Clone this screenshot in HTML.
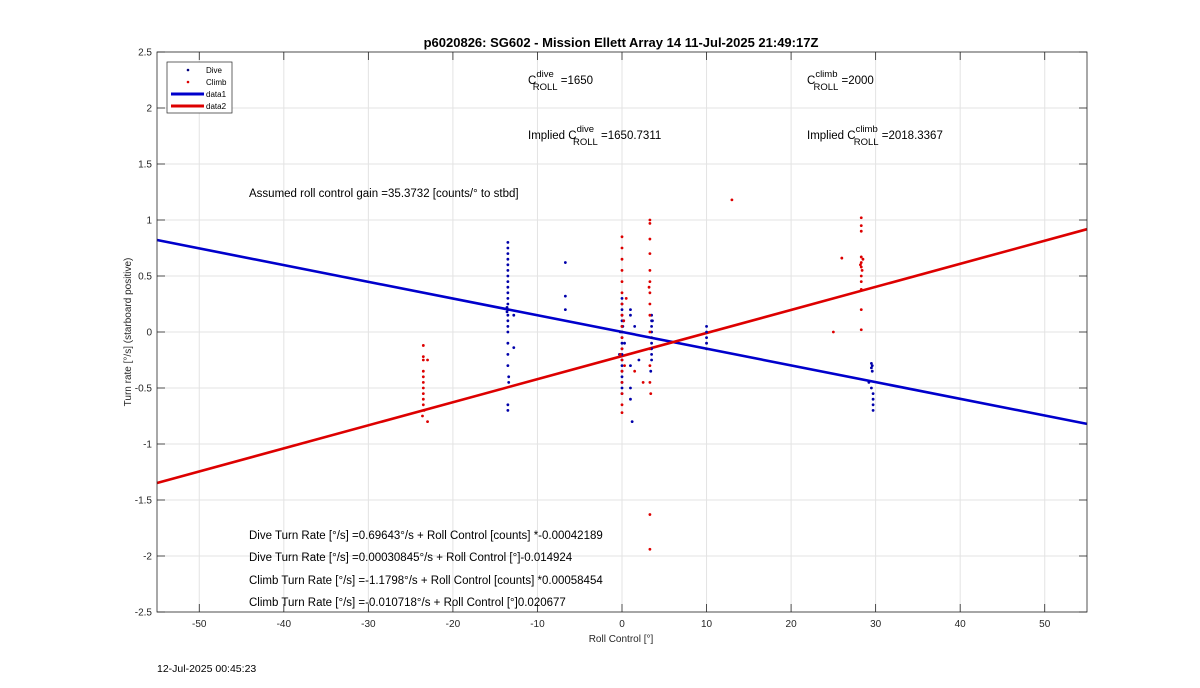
<!DOCTYPE html>
<html><head><meta charset="utf-8"><style>
body{margin:0;background:#fff;}
svg{display:block;font-family:"Liberation Sans",Arial,sans-serif;}
</style></head><body>
<svg id="chart" width="1200" height="688" viewBox="0 0 1200 688">
<rect x="0" y="0" width="1200" height="688" fill="#fff"/>
<rect x="157" y="52" width="930" height="560" fill="#fff" stroke="none"/>
<g id="grid"></g>
<g id="axes"></g>
<g id="marks"></g>
<rect x="157" y="52" width="930" height="560" fill="none" stroke="#262626" stroke-width="0.8"/>
<text x="621" y="47" text-anchor="middle" font-size="13" font-weight="bold" fill="#000">p6020826: SG602 - Mission Ellett Array 14 11-Jul-2025 21:49:17Z</text>
<g font-size="11.5" fill="#000">
<text x="528" y="84">C<tspan dy="-7" font-size="9.5">dive</tspan><tspan dx="-21" dy="13" font-size="9.5">ROLL</tspan><tspan dy="-6"> =1650</tspan></text>
<text x="807" y="84">C<tspan dy="-7" font-size="9.5">climb</tspan><tspan dx="-24" dy="13" font-size="9.5">ROLL</tspan><tspan dy="-6"> =2000</tspan></text>
<text x="528" y="139">Implied C<tspan dy="-7" font-size="9.5">dive</tspan><tspan dx="-21" dy="13" font-size="9.5">ROLL</tspan><tspan dy="-6"> =1650.7311</tspan></text>
<text x="807" y="139">Implied C<tspan dy="-7" font-size="9.5">climb</tspan><tspan dx="-24" dy="13" font-size="9.5">ROLL</tspan><tspan dy="-6"> =2018.3367</tspan></text>
<text x="249" y="197">Assumed roll control gain =35.3732 [counts/° to stbd]</text>
<text x="249" y="539">Dive Turn Rate [°/s] =0.69643°/s + Roll Control [counts] *-0.00042189</text>
<text x="249" y="561">Dive Turn Rate [°/s] =0.00030845°/s + Roll Control [°]-0.014924</text>
<text x="249" y="584">Climb Turn Rate [°/s] =-1.1798°/s + Roll Control [counts] *0.00058454</text>
<text x="249" y="606">Climb Turn Rate [°/s] =-0.010718°/s + Roll Control [°]0.020677</text>
</g>
<text x="621" y="642" text-anchor="middle" font-size="10" fill="#262626">Roll Control [°]</text>
<text transform="translate(131,332) rotate(-90)" text-anchor="middle" font-size="10" fill="#262626">Turn rate [°/s] (starboard positive)</text>
<text x="157" y="672" font-size="10.5" fill="#000">12-Jul-2025 00:45:23</text>
<g>
<rect x="167" y="62" width="65" height="51" fill="#fff" stroke="#262626" stroke-width="0.7"/>
<circle cx="188" cy="70" r="1.3" fill="#00007f"/>
<text x="206" y="73" font-size="8" fill="#000">Dive</text>
<circle cx="188" cy="82" r="1.3" fill="#d00"/>
<text x="206" y="85" font-size="8" fill="#000">Climb</text>
<line x1="171" y1="94" x2="204" y2="94" stroke="#0000cc" stroke-width="3"/>
<text x="206" y="97" font-size="8" fill="#000">data1</text>
<line x1="171" y1="106" x2="204" y2="106" stroke="#dd0000" stroke-width="3"/>
<text x="206" y="109" font-size="8" fill="#000">data2</text>
</g>
</svg>
<script>
const xTicks = [-50,-40,-30,-20,-10,0,10,20,30,40,50];
const yTicks = [-2.5,-2,-1.5,-1,-0.5,0,0.5,1,1.5,2,2.5];
const yTickLabels = ["-2.5","-2","-1.5","-1","-0.5","0","0.5","1","1.5","2","2.5"];
const diveX = [-13.5,-13.5,-13.5,-13.5,-13.5,-13.5,-13.5,-13.5,-13.5,-13.5,-13.5,-13.5,-13.5,-13.5,-13.5,-13.5,-13.5,-13.5,-13.5,-13.5,-13.4,-13.4,-13.6,-13.6,-13.5,-13.5,-12.8,-12.8,-6.7,-6.7,-6.7,0,0,0,0,0,0,0,0,0,0,0,0,0,0,0,0,0,0,0.2,-0.2,0.3,-0.3,0.1,1,1,1,1,1,1.2,1.5,2,3.5,3.5,3.5,3.5,3.5,3.5,3.5,3.5,3.5,3.4,3.6,10,10,10,10,10,29.5,29.5,29.6,29.6,29.7,29.7,29.7,29.7,29.2,29.5];
const diveY = [0.8,0.75,0.7,0.65,0.6,0.55,0.5,0.45,0.4,0.35,0.3,0.25,0.2,0.15,0.1,0.05,0,-0.1,-0.2,-0.3,-0.4,-0.45,0.22,0.18,-0.65,-0.7,0.15,-0.14,0.62,0.32,0.2,0.3,0.25,0.2,0.15,0.1,0.05,0,-0.05,-0.1,-0.15,-0.2,-0.25,-0.3,-0.35,-0.4,-0.45,-0.5,-0.55,0.1,0,-0.1,-0.2,0.05,0.2,0.15,-0.3,-0.5,-0.6,-0.8,0.05,-0.25,0.15,0.1,0.05,0,-0.05,-0.1,-0.15,-0.2,-0.25,-0.35,0.1,0.05,0,-0.05,-0.1,-0.15,-0.28,-0.32,-0.3,-0.35,-0.55,-0.6,-0.65,-0.7,-0.45,-0.5];
const climbX = [-23.5,-23.5,-23.5,-23.5,-23.5,-23.5,-23.5,-23.5,-23.5,-23.5,-23.4,-23.6,-23,-23,0,0,0,0,0,0,0,0,0,0,0,0,0,0,0,0,0,0.2,-0.2,0.3,0.5,1.5,2.5,3.3,3.3,3.3,3.3,3.3,3.3,3.3,3.3,3.3,3.3,3.3,3.3,3.3,3.4,3.2,3.3,3.3,13,28.3,28.3,28.3,28.3,28.3,28.3,28.3,28.3,28.3,28.4,28.2,28.5,28.3,28.3,26,25];
const climbY = [-0.12,-0.22,-0.25,-0.35,-0.4,-0.45,-0.5,-0.55,-0.6,-0.65,-0.7,-0.75,-0.8,-0.25,0.85,0.75,0.65,0.55,0.45,0.35,0.25,0.15,0.05,-0.05,-0.15,-0.25,-0.35,-0.45,-0.55,-0.65,-0.72,0.1,-0.2,-0.3,0.3,-0.35,-0.45,1,0.97,0.83,0.7,0.55,0.45,0.35,0.25,0.15,0,-0.15,-0.3,-0.45,-0.55,0.4,-1.63,-1.94,1.18,1.02,0.95,0.9,0.67,0.62,0.58,0.5,0.45,0.38,0.55,0.6,0.65,0.2,0.02,0.66,0];
const diveFit = [0.0003085, -0.014924];
const climbFit = [-0.215, 0.0206];
const xMin=-55,xMax=55,yMin=-2.5,yMax=2.5;
const L=157,R=1087,T=52,B=612;
const sx=v=>L+(v-xMin)/(xMax-xMin)*(R-L);
const sy=v=>B-(v-yMin)/(yMax-yMin)*(B-T);
const NS="http://www.w3.org/2000/svg";
function mk(tag,attrs,parent){const e=document.createElementNS(NS,tag);for(const k in attrs)e.setAttribute(k,attrs[k]);parent.appendChild(e);return e;}
const grid=document.getElementById('grid'),axes=document.getElementById('axes'),marks=document.getElementById('marks');
xTicks.forEach(t=>{
  const g=mk('line',{x1:sx(t),x2:sx(t),y1:T,y2:B,stroke:'#e3e3e3','stroke-width':1},grid);
  
  
  const tk=mk('line',{x1:sx(t),x2:sx(t),y1:B,y2:B-8,stroke:'#262626','stroke-width':0.8},axes);
  
  
  const tk2=mk('line',{x1:sx(t),x2:sx(t),y1:T,y2:T+8,stroke:'#262626','stroke-width':0.8},axes);
  
  
  const lb=mk('text',{x:sx(t),y:B+15,'text-anchor':'middle','font-size':10,fill:'#262626'},axes);
  lb.textContent=String(t);
  
  
});
yTicks.forEach((t,i)=>{
  const g=mk('line',{x1:L,x2:R,y1:sy(t),y2:sy(t),stroke:'#e3e3e3','stroke-width':1},grid);
  
  
  const tk=mk('line',{x1:L,x2:L+8,y1:sy(t),y2:sy(t),stroke:'#262626','stroke-width':0.8},axes);
  
  
  const tk2=mk('line',{x1:R,x2:R-8,y1:sy(t),y2:sy(t),stroke:'#262626','stroke-width':0.8},axes);
  
  
  const lb=mk('text',{x:L-5,y:sy(t)+3.5,'text-anchor':'end','font-size':10,fill:'#262626'},axes);
  lb.textContent=yTickLabels[i];
  
  
});
function fitLine(fit,color,name){
  const l=mk('line',{x1:sx(xMin),y1:sy(fit[0]+fit[1]*xMin),x2:sx(xMax),y2:sy(fit[0]+fit[1]*xMax),stroke:color,'stroke-width':2.6},marks);
  
  
}
fitLine(diveFit,'#0000cc','dive-fit-line');
fitLine(climbFit,'#dd0000','climb-fit-line');
diveX.forEach((x,i)=>{
  const c=mk('circle',{cx:sx(x),cy:sy(diveY[i]),r:1.4,fill:'#0000aa'},marks);
  
  
});
climbX.forEach((x,i)=>{
  const c=mk('circle',{cx:sx(x),cy:sy(climbY[i]),r:1.4,fill:'#dd0000'},marks);
  
  
});
</script>
</body></html>
